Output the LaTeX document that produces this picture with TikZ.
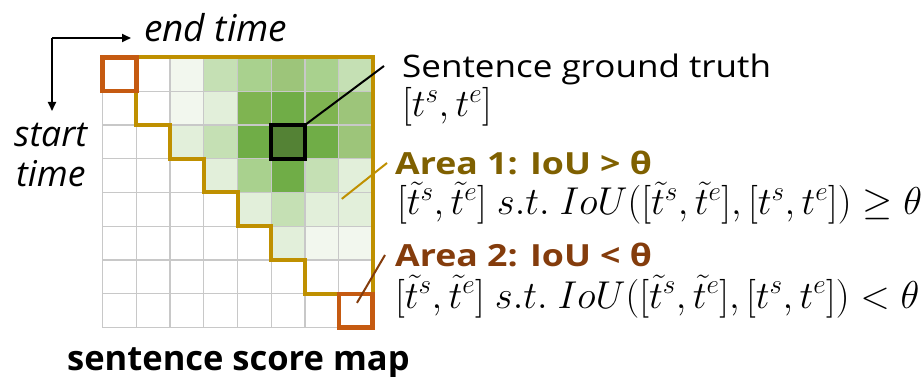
\documentclass[tikz,border=0pt]{standalone}
\usepackage{fix-cm}
\usepackage{fontspec}
\setmainfont{Open Sans}
\usetikzlibrary{arrows.meta}
\definecolor{goldline}{HTML}{BF9000}
\definecolor{goldtext}{HTML}{7F6000}
\definecolor{orangebox}{HTML}{C55A11}
\definecolor{browntext}{HTML}{843C0C}
\definecolor{gridgray}{HTML}{C8C8C8}
\definecolor{ga}{HTML}{F2F7EE}
\definecolor{gb}{HTML}{E2EFDA}
\definecolor{gc}{HTML}{C5E0B4}
\definecolor{gd}{HTML}{A9D18E}
\definecolor{ge}{HTML}{9DC57A}
\definecolor{gf}{HTML}{7FB451}
\definecolor{gg}{HTML}{70AD47}
\definecolor{gh}{HTML}{548235}
\begin{document}
\begin{tikzpicture}[x=1pt,y=-1pt,
  lbl/.style={inner sep=0pt, anchor=base west},
  gridline/.style={gridgray, line width=1.3pt},
  goldpath/.style={goldline, line width=4pt, line join=miter},
  hotbox/.style={orangebox, line width=4.5pt},
  gtbox/.style={black, line width=4pt},
  leader/.style={line width=2pt},
  axisarrow/.style={black, line width=1.8pt, -{Triangle[length=9pt,width=8pt]}},
  mathtxt/.style={font=\fontsize{38.8}{44}\selectfont}
]
\useasboundingbox (0,0) rectangle (922,377);
\fill[white] (0,0) rectangle (922,377);
\begin{scope}[shift={(102.5,57.5)}, x=33.75pt, y=-33.75pt]
  \foreach \r/\c/\col in {0/2/ga,0/3/gc,0/4/gd,0/5/ge,0/6/gd,0/7/gc,
    1/2/ga,1/3/gb,1/4/gf,1/5/gg,1/6/gf,1/7/ge,
    2/2/gb,2/3/gc,2/4/gg,2/5/gh,2/6/gg,2/7/ge,
    3/3/gb,3/4/gd,3/5/gg,3/6/gc,3/7/gb,
    4/4/gb,4/5/gc,4/6/gb,4/7/gb,
    5/5/gb,5/6/ga,5/7/ga}
    \fill[\col] (\c,\r) rectangle (\c+1,\r+1);
  \foreach \i in {0,...,8} {
    \draw[gridline] (\i,0) -- (\i,8);
    \draw[gridline] (0,\i) -- (8,\i);
  }
  \draw[goldpath] (1,0) -- (8,0) -- (8,7) -- (6,7) -- (6,6) -- (5,6) -- (5,5) -- (4,5) -- (4,4) -- (3,4) -- (3,3) -- (2,3) -- (2,2) -- (1,2) -- (1,1);
  \draw[hotbox] (0,0) rectangle (1,1);
  \draw[hotbox] (7,7) rectangle (8,8);
  \draw[gtbox] (5,2) rectangle (6,3);
  \coordinate (gtc) at (6,2);
  \coordinate (a1c) at (7.09,4.19);
  \coordinate (a2c) at (7.54,7.27);
\end{scope}
% axes
\coordinate (corner) at (52,38);
\coordinate (xend) at (131,38);
\coordinate (yend) at (52,111);
\draw[axisarrow] (corner) -- (xend);
\draw[axisarrow] (corner) -- (yend);
\node[lbl, font=\itshape\fontsize{37}{44}\selectfont] (endt) at (144,41.5) {end time};
\node[lbl, font=\itshape\fontsize{35.5}{40}\selectfont] (startt) at (14,146.5) {start};
\node[lbl, font=\itshape\fontsize{35.5}{40}\selectfont] (timet) at (16,186.5) {time};
\node[lbl, font=\bfseries\fontsize{34.5}{40}\selectfont] (mapt) at (67,370) {sentence score map};
% right texts
\node[lbl, font=\fontsize{31}{36}\selectfont] (gt) at (402,77.5) {\scalebox{1.13}[1]{Sentence ground truth}};
\node[lbl, mathtxt] (gtm) at (402,117) {$[t^s,t^e]$};
\node[lbl, font=\bfseries\fontsize{30.5}{36}\selectfont, text=goldtext] (a1) at (395,174.5) {\scalebox{1.17}[1]{Area 1: IoU > θ}};
\node[lbl, mathtxt] (a1m) at (397,214.5) {$[\tilde t^s,\tilde t^e]\ s.t.\ IoU([\tilde t^s,\tilde t^e],[t^s,t^e])\geq\theta$};
\node[lbl, font=\bfseries\fontsize{30.5}{36}\selectfont, text=browntext] (a2) at (395,266.5) {\scalebox{1.17}[1]{Area 2: IoU < θ}};
\node[lbl, mathtxt] (a2m) at (395,308) {$[\tilde t^s,\tilde t^e]\ s.t.\ IoU([\tilde t^s,\tilde t^e],[t^s,t^e])<\theta$};
% leaders
\coordinate (gtl) at (384,66);
\coordinate (a1l) at (387,163);
\coordinate (a2l) at (385,255);
\draw[leader, black] (gtc) -- (gtl);
\draw[leader, goldline] (a1c) -- (a1l);
\draw[leader, browntext] (a2c) -- (a2l);
\end{tikzpicture}
\end{document}
